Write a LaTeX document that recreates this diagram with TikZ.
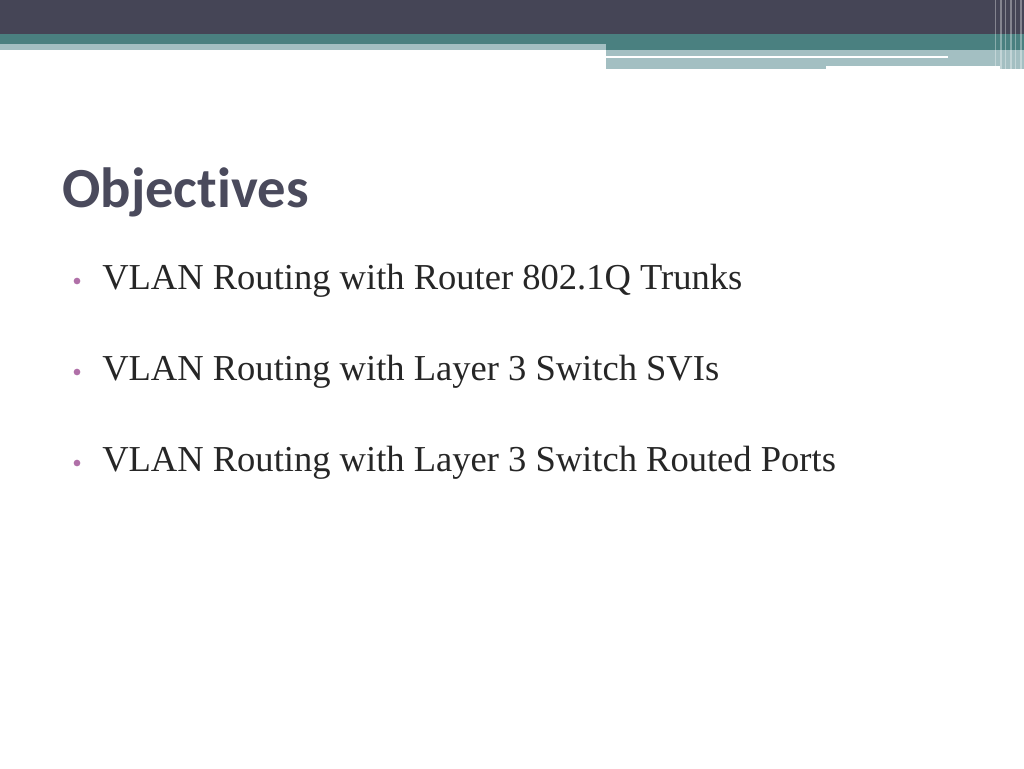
\documentclass[tikz,border=0pt]{standalone}
\usepackage{fontspec}
\setmainfont{Liberation Serif}
\newfontfamily\titlefont[Ligatures=NoCommon]{Carlito}
\usetikzlibrary{positioning}
\definecolor{headdark}{HTML}{454556}
\definecolor{headteal}{HTML}{4A8080}
\definecolor{headlight}{HTML}{A3BFC2}
\definecolor{bulletpink}{HTML}{B070A8}
\definecolor{titlegrey}{HTML}{4A4A5C}
\newcommand{\itemnum}{3}
\begin{document}
\begin{tikzpicture}[x=0.75pt,y=-0.75pt]

        \useasboundingbox (0,0) rectangle (1024,768);
        \fill[white] (0,0) rectangle (1024,768);

        % Header bands
        \fill[headdark] (0,0) rectangle (1024,34);
        \fill[headteal] (0,34) rectangle (1024,44);
        \fill[headlight] (0,44) rectangle (606,50);
        \fill[headteal] (606,44) rectangle (1024,50);
        \fill[headlight] (606,50) rectangle (1024,69);
        \fill[white] (606,56) rectangle (948,58);
        \fill[white] (826,66) rectangle (1000,69);

        % Right stripes
        \foreach \x/\w in {995/0.8,1000/1.5,1005/1,1010/2,1015/1,1020/1.5}
        {
            \fill[white, opacity=0.35] (\x,0) rectangle ++(\w,69);
        }

        % Title
        \node[anchor=base west, inner sep=0pt, text=titlegrey,
            font=\titlefont\bfseries\fontsize{42.5}{48}\selectfont] (Title) at (62,207) {Objectives};

        % Bullets
        \foreach \i/\txt in {1/VLAN Routing with Router 802.1Q Trunks,
                             2/VLAN Routing with Layer 3 Switch SVIs,
                             3/VLAN Routing with Layer 3 Switch Routed Ports}
        {
            \node[circle, fill=bulletpink, inner sep=0pt, minimum size=5pt] (Bullet-\i) at (77,190+91*\i) {};
            \node[anchor=west, inner sep=0pt, text=black!85,
                font=\fontsize{27.4}{32}\selectfont] (Item-\i) at (102,190+91*\i) {\txt};
        }

\end{tikzpicture}
\end{document}
